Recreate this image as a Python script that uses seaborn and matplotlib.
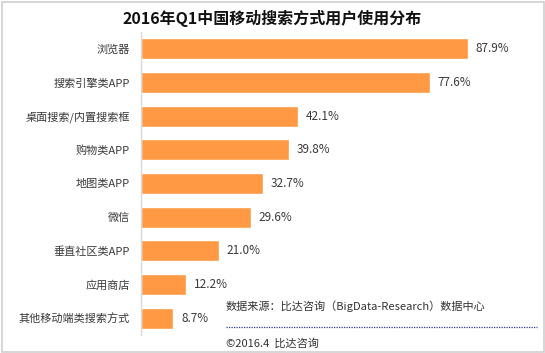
import matplotlib
matplotlib.use("Agg")
import matplotlib.pyplot as plt
import seaborn as sns
import pandas as pd
from matplotlib.patches import Rectangle

categories = ["浏览器", "搜索引擎类APP", "桌面搜索/内置搜索框", "购物类APP", "地图类APP",
              "微信", "垂直社区类APP", "应用商店", "其他移动端类搜索方式"]
shares = [87.9, 77.6, 42.1, 39.8, 32.7, 29.6, 21.0, 12.2, 8.7]
title = "2016年Q1中国移动搜索方式用户使用分布"
source_note = "数据来源：比达咨询（BigData-Research）数据中心"
copyright_note = "©2016.4  比达咨询"

df = pd.DataFrame({"category": categories, "share": shares})

sns.set_theme(style="white")
plt.rcParams["font.family"] = ["Noto Sans CJK SC", "DejaVu Sans"]

W, H = 545, 353
fig = plt.figure(figsize=(W / 100, H / 100), dpi=100)
ax = fig.add_axes([141 / W, 1 - 335 / H, 372 / W, 303 / H])

bar_color = "#FF9944"
sns.barplot(data=df, x="share", y="category", color=bar_color, saturation=1,
            width=0.62, ax=ax)

ax.set_xlim(0, 100)
ax.set_ylim(len(categories) - 0.5, -0.5)
ax.set_xlabel("")
ax.set_ylabel("")
ax.set_xticks([])
for side in ["top", "right", "bottom"]:
    ax.spines[side].set_visible(False)
ax.spines["left"].set_color("#D9D9D9")
ax.spines["left"].set_linewidth(1.0)
ax.tick_params(axis="y", length=0, pad=8, labelsize=8, labelcolor="#3A3A3A")

for i, v in enumerate(shares):
    ax.annotate(f"{v:.1f}%", xy=(v, i), xytext=(5.5, 0), textcoords="offset points",
                ha="left", va="center", fontsize=8.5, color="#3A3A3A")

fig.text(0.5, 1 - 18 / H, title, ha="center", va="center", fontsize=11.5,
         fontweight="bold", color="#111111")

fig.text(226 / W, 1 - 306 / H, source_note, ha="left", va="center",
         fontsize=8, color="#333333")
fig.add_artist(plt.Line2D([226 / W, 537 / W], [1 - 327 / H, 1 - 327 / H],
                          transform=fig.transFigure, color="#2A3A9A",
                          linestyle=(0, (1, 1)), linewidth=0.9))
fig.text(226 / W, 1 - 343 / H, copyright_note, ha="left", va="center",
         fontsize=8, color="#333333")

fig.add_artist(Rectangle((1.5 / W, 1.5 / H), (W - 3) / W, (H - 3) / H,
                         transform=fig.transFigure, fill=False,
                         edgecolor="#D0D0D0", linewidth=1.2))

fig.savefig("out.png", dpi=100)
